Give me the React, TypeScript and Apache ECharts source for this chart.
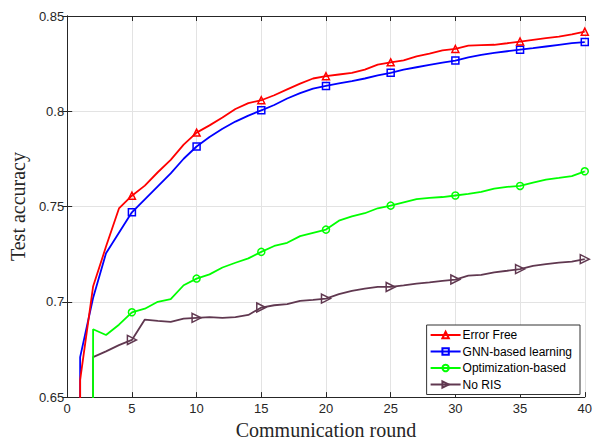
import React, { useEffect, useRef } from "react";
import * as echarts from "echarts";

const rounds = [1, 2, 3, 4, 5, 6, 7, 8, 9, 10, 11, 12, 13, 14, 15, 16, 17, 18, 19, 20, 21, 22, 23, 24, 25, 26, 27, 28, 29, 30, 31, 32, 33, 34, 35, 36, 37, 38, 39, 40];

const seriesNames = ["Error Free", "GNN-based learning", "Optimization-based", "No RIS"];

// accuracy before training (below the visible axis range)
const initialAccuracy = 0.1;

const errorFree = [0.659, 0.708, 0.729, 0.749, 0.7557, 0.761, 0.768, 0.7745, 0.7825, 0.7888, 0.7926, 0.7967, 0.8012, 0.8043, 0.8058, 0.8084, 0.8115, 0.8145, 0.8172, 0.8184, 0.8193, 0.8202, 0.8219, 0.8245, 0.8257, 0.8267, 0.8288, 0.8303, 0.832, 0.8327, 0.8344, 0.8347, 0.8349, 0.8357, 0.8366, 0.8375, 0.8384, 0.8392, 0.8403, 0.8418];

const gnnBased = [0.671, 0.702, 0.7255, 0.7362, 0.747, 0.7538, 0.7606, 0.7674, 0.7751, 0.7815, 0.7865, 0.7908, 0.7946, 0.7977, 0.8005, 0.8033, 0.8067, 0.8095, 0.8119, 0.8133, 0.8146, 0.8158, 0.8172, 0.8188, 0.8202, 0.8219, 0.8231, 0.8243, 0.8255, 0.8266, 0.8283, 0.8296, 0.8306, 0.8315, 0.8323, 0.8331, 0.834, 0.8349, 0.8358, 0.8363];

const optimizationBased = [null, 0.6856, 0.6826, 0.688, 0.6945, 0.6964, 0.7, 0.7014, 0.7087, 0.7122, 0.7144, 0.718, 0.7205, 0.7228, 0.7262, 0.7293, 0.731, 0.7345, 0.7362, 0.7379, 0.7426, 0.7448, 0.7465, 0.7491, 0.7505, 0.7522, 0.7539, 0.7546, 0.755, 0.7558, 0.7566, 0.7577, 0.7594, 0.7603, 0.7608, 0.7625, 0.7641, 0.765, 0.766, 0.7685];

const noRIS = [null, 0.671, 0.674, 0.6773, 0.68, 0.6907, 0.69, 0.6895, 0.6912, 0.6916, 0.692, 0.6916, 0.692, 0.6931, 0.697, 0.6982, 0.6988, 0.7005, 0.701, 0.7017, 0.704, 0.7057, 0.7069, 0.7078, 0.7078, 0.7086, 0.7095, 0.7102, 0.711, 0.7117, 0.7138, 0.7141, 0.7155, 0.7163, 0.7172, 0.7189, 0.7198, 0.7206, 0.7211, 0.7224];

const xTicks = { min: 0, max: 40, interval: 5 };
const yTicks = { min: 0.65, max: 0.85, interval: 0.05 };
const markerEvery = 5;

const colors = ["#ff0000", "#0000ff", "#00ff00", "#603850"];
const symbols = ["triangle", "rect", "circle", "path://M0,0L10,5L0,10Z"];

function buildPairs(values: (number | null)[]) {
  const pairs: number[][] = [];
  let started = false;
  values.forEach((v, i) => {
    if (v === null) return;
    if (!started) {
      pairs.push([rounds[i], initialAccuracy]);
      started = true;
    }
    pairs.push([rounds[i], v]);
  });
  return pairs;
}

export default function App() {
  const ref = useRef<HTMLDivElement>(null);
  useEffect(() => {
    if (!ref.current) return;
    const chart = echarts.init(ref.current, null, { renderer: "svg" });
    const all = [errorFree, gnnBased, optimizationBased, noRIS];
    const axisColor = "#262626";
    const tickFont = "'Liberation Sans', Arial, sans-serif";
    const serif = "'Liberation Serif', 'Times New Roman', serif";
    const series = all.map((vals, k) => {
      const pairs = buildPairs(vals);
      return {
        name: seriesNames[k],
        type: "line",
        data: pairs.map((p, idx) => ({
          value: p,
          symbol: idx > 0 && p[0] % markerEvery === 0 ? symbols[k] : "none",
        })),
        symbol: symbols[k],
        symbolSize: k === 3 ? 9 : 7,
        showSymbol: true,
        clip: true,
        lineStyle: { color: colors[k], width: 1.8 },
        itemStyle: { color: "rgba(255,255,255,0)", borderColor: colors[k], borderWidth: 1.5 },
        z: 10 - k,
      };
    });
    chart.setOption({
      animation: false,
      backgroundColor: "#ffffff",
      grid: { left: 65.5, right: 7, top: 16, bottom: 41.5, show: false },
      legend: {
        orient: "vertical",
        right: 15,
        top: 325,
        data: seriesNames,
        itemWidth: 30,
        itemHeight: 8,
        itemGap: 4.5,
        padding: [4, 8, 4, 3],
        backgroundColor: "#ffffff",
        borderColor: "#333333",
        borderWidth: 1,
        borderRadius: 0,
        textStyle: { fontFamily: tickFont, fontSize: 12, color: "#000000", padding: [0, 0, 0, -3] },
      },
      xAxis: [
        {
          type: "value",
          ...xTicks,
          name: "Communication round",
          nameLocation: "middle",
          nameGap: 20,
          nameTextStyle: { fontFamily: serif, fontSize: 20, color: "#262626" },
          axisLine: { show: true, lineStyle: { color: axisColor, width: 1 } },
          axisTick: { show: true, inside: true, length: 5, lineStyle: { color: axisColor } },
          axisLabel: { fontFamily: tickFont, fontSize: 13, color: axisColor, margin: 5 },
          splitLine: { show: true, lineStyle: { color: "#e3e3e3", width: 1 } },
        },
        {
          type: "value",
          ...xTicks,
          position: "top",
          axisLine: { show: true, lineStyle: { color: axisColor, width: 1 } },
          axisTick: { show: true, inside: true, length: 5, lineStyle: { color: axisColor } },
          axisLabel: { show: false },
          splitLine: { show: false },
        },
      ],
      yAxis: [
        {
          type: "value",
          ...yTicks,
          name: "Test accuracy",
          nameLocation: "middle",
          nameGap: 34,
          nameTextStyle: { fontFamily: serif, fontSize: 20, color: "#262626" },
          axisLine: { show: true, lineStyle: { color: axisColor, width: 1 } },
          axisTick: { show: true, inside: true, length: 5, lineStyle: { color: axisColor } },
          axisLabel: { fontFamily: tickFont, fontSize: 13, color: axisColor, margin: 3 },
          splitLine: { show: true, lineStyle: { color: "#e3e3e3", width: 1 } },
        },
        {
          type: "value",
          ...yTicks,
          position: "right",
          axisLine: { show: true, lineStyle: { color: axisColor, width: 1 } },
          axisTick: { show: true, inside: true, length: 5, lineStyle: { color: axisColor } },
          axisLabel: { show: false },
          splitLine: { show: false },
        },
      ],
      series,
    });
    return () => chart.dispose();
  }, []);
  return (
    <div
      ref={ref}
      style={{ position: "fixed", left: 0, top: 0, width: 595, height: 445, background: "#fff" }}
    />
  );
}
